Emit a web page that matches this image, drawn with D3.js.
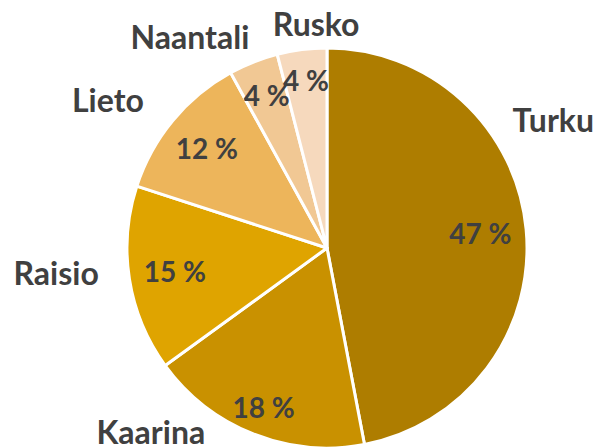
<!DOCTYPE html>
<html>
<head>
<meta charset="utf-8">
<script src="https://cdn.jsdelivr.net/npm/d3@7"></script>
<style>
  body { margin: 0; background: #fff; }
  text { font-family: Lato, "Open Sans", sans-serif; font-weight: bold; fill: #404040; }
</style>
</head>
<body>
<div id="chart"></div>
<script>
const categories = ["Turku", "Kaarina", "Raisio", "Lieto", "Naantali", "Rusko"];
const shares = [47, 18, 15, 12, 4, 4];
const colors = ["#AE7D00", "#C99100", "#DFA400", "#EDB55B", "#F1C894", "#F6D9BD"];

// label placement (angle in degrees clockwise from top, radius as a share of pie radius)
const nameAngles = [60.5, 223.7, 264.7, 303.9, 326.9, 357.2];
const nameRadii = [1.30, 1.275, 1.36, 1.32, 1.255, 1.12];
const valueRadii = [0.77, 0.86, 0.77, 0.78, 0.82, 0.84];

const width = 602, height = 447;
const cx = 327, cy = 248, radius = 200;

const data = categories.map((c, i) => ({ name: c, value: shares[i], color: colors[i], idx: i }));

const svg = d3.select("#chart")
  .append("svg")
    .attr("width", width)
    .attr("height", height);

const g = svg.append("g")
  .attr("transform", `translate(${cx},${cy})`);

const pie = d3.pie()
  .value(d => d.value)
  .sort(null);

const arc = d3.arc()
  .innerRadius(0)
  .outerRadius(radius);

const arcs = pie(data);

g.selectAll(".slice")
  .data(arcs)
  .join("path")
    .attr("class", "slice")
    .attr("d", arc)
    .attr("fill", d => d.data.color)
    .attr("stroke", "#fff")
    .attr("stroke-width", 3)
    .attr("stroke-linejoin", "round");

// value labels inside slices
g.selectAll(".value")
  .data(arcs)
  .join("text")
    .attr("class", "value")
    .attr("text-anchor", "middle")
    .attr("dy", "0.36em")
    .attr("font-size", 28)
    .attr("transform", d => {
      const a = (d.startAngle + d.endAngle) / 2;
      const r = radius * valueRadii[d.data.idx];
      return `translate(${r * Math.sin(a)},${-r * Math.cos(a)})`;
    })
    .text(d => `${d.data.value} %`);

// category names outside
g.selectAll(".name")
  .data(arcs)
  .join("text")
    .attr("class", "name")
    .attr("text-anchor", "middle")
    .attr("dy", "0.36em")
    .attr("font-size", 32)
    .attr("transform", d => {
      const a = nameAngles[d.data.idx] * Math.PI / 180;
      const r = radius * nameRadii[d.data.idx];
      return `translate(${r * Math.sin(a)},${-r * Math.cos(a)})`;
    })
    .text(d => d.data.name);
</script>
</body>
</html>
